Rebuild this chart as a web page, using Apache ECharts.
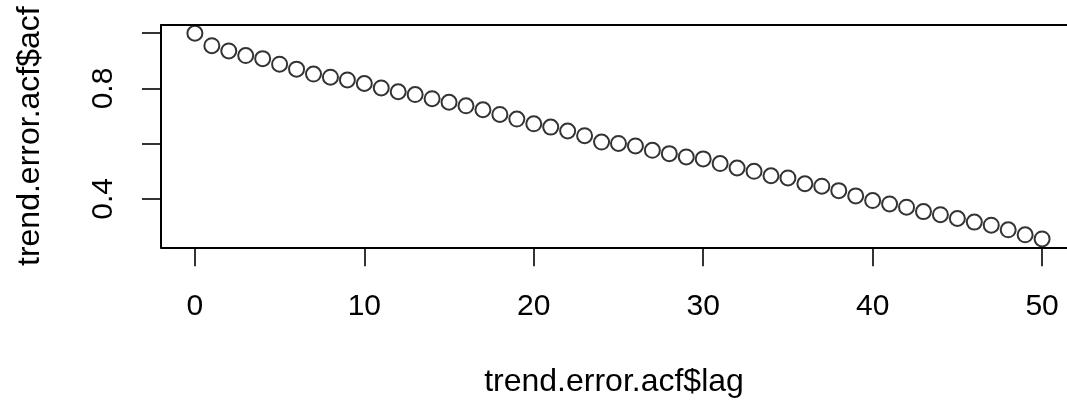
<!DOCTYPE html>
<html>
<head>
<meta charset="utf-8">
<script src="https://cdn.jsdelivr.net/npm/echarts@6/dist/echarts.min.js"></script>
<style>
html,body{margin:0;padding:0;background:#fff;}
#chart{width:1067px;height:404px;}
</style>
</head>
<body>
<div id="chart"></div>
<script>
const lags = [0,1,2,3,4,5,6,7,8,9,10,11,12,13,14,15,16,17,18,19,20,21,22,23,24,25,26,27,28,29,30,31,32,33,34,35,36,37,38,39,40,41,42,43,44,45,46,47,48,49,50];
const acfValues = [1.000,0.955,0.936,0.919,0.908,0.888,0.870,0.852,0.841,0.831,0.818,0.802,0.788,0.778,0.763,0.750,0.737,0.723,0.706,0.689,0.672,0.660,0.646,0.629,0.606,0.601,0.592,0.576,0.564,0.552,0.545,0.528,0.512,0.500,0.484,0.476,0.455,0.446,0.430,0.411,0.394,0.382,0.370,0.354,0.343,0.329,0.316,0.305,0.288,0.270,0.255];
const xTicks = [0,10,20,30,40,50];
const yTicks = [0.4,0.6,0.8,1.0];
const yLabels = [0.4,0.8];
const xTitle = 'trend.error.acf$lag';
const yTitle = 'trend.error.acf$acf';

const chart = echarts.init(document.getElementById('chart'), null, {renderer:'canvas'});
const font = 'Liberation Sans, Arial, Helvetica, sans-serif';
const boxLine = {show:true, onZero:false, lineStyle:{color:'#000', width:2}};
chart.setOption({
  animation:false,
  backgroundColor:'#fff',
  grid:{left:161, top:25, width:906, height:222.3, show:false},
  xAxis:[{
    type:'value', min:-2, max:51.47, position:'bottom',
    name:xTitle, nameLocation:'middle', nameGap:119,
    nameTextStyle:{fontFamily:font, fontSize:32, color:'#000'},
    axisLine:boxLine,
    splitLine:{show:false},
    axisTick:{show:true, inside:false, length:19, lineStyle:{color:'#000', width:1.6}, customValues:xTicks},
    axisLabel:{show:true, margin:44, fontFamily:font, fontSize:30, color:'#000', customValues:xTicks, showMinLabel:true, showMaxLabel:true}
  },{
    type:'value', min:-2, max:51.47, position:'top',
    axisLine:boxLine, axisTick:{show:false}, axisLabel:{show:false}, splitLine:{show:false}
  }],
  yAxis:{
    type:'value', min:0.2248, max:1.0298,
    name:yTitle, nameLocation:'middle', nameGap:115, nameRotate:90,
    nameTextStyle:{fontFamily:font, fontSize:32, color:'#000'},
    axisLine:boxLine,
    splitLine:{show:false},
    axisTick:{show:true, inside:false, length:19, lineStyle:{color:'#000', width:1.6}, customValues:yTicks},
    axisLabel:{show:true, rotate:90, margin:42, fontFamily:font, fontSize:30, color:'#000', customValues:yLabels,
      formatter:function(v){return v.toFixed(1);}}
  },
  series:[{
    type:'scatter', xAxisIndex:0,
    data:lags.map((l,i)=>[l, acfValues[i]]),
    symbol:'circle', symbolSize:15,
    itemStyle:{color:'rgba(0,0,0,0)', borderColor:'#000', borderWidth:2},
    clip:false
  }]
});
</script>
</body>
</html>
